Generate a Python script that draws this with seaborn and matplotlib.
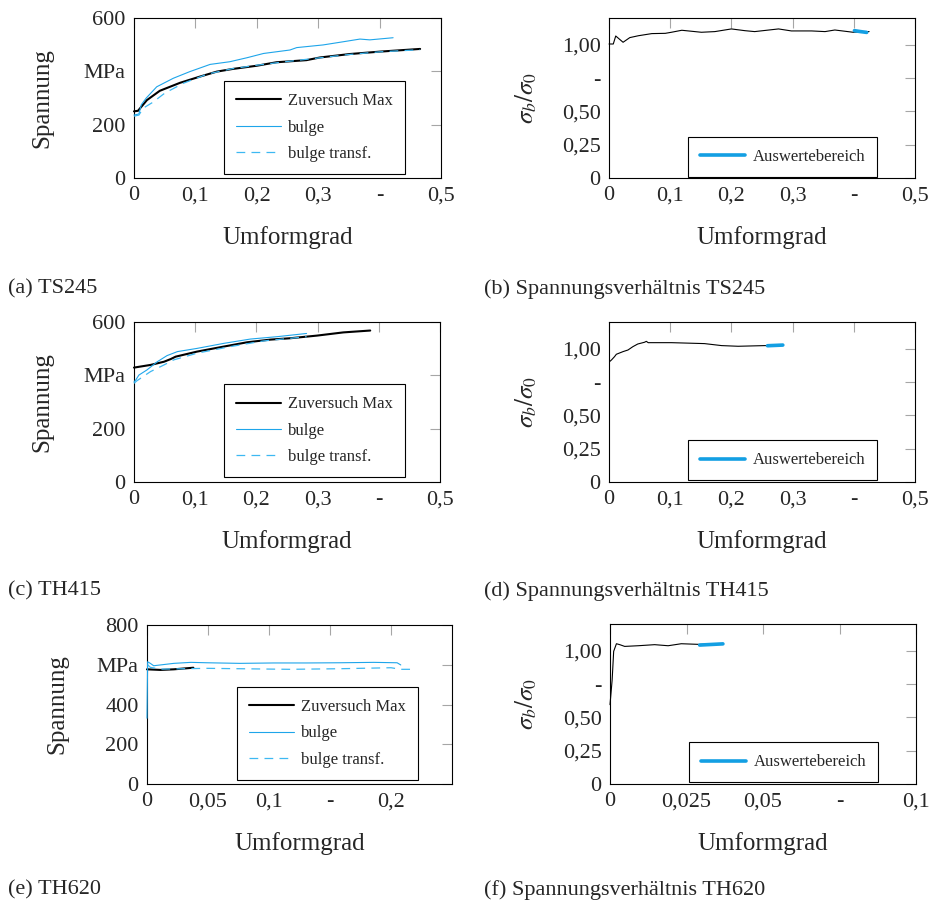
import matplotlib
matplotlib.use("Agg")
import matplotlib.pyplot as plt
import pandas as pd
import seaborn as sns

# ---------------------------------------------------------------- data
# TS245: flow curves (strain, stress in MPa)
ts245_zug_x = [0.0, 0.0065, 0.021, 0.042, 0.075, 0.107, 0.135, 0.161, 0.2, 0.232, 0.281, 0.303, 0.352, 0.401, 0.466]
ts245_zug_y = [250, 252, 292, 327, 357, 380, 399, 409, 421, 434, 442, 452, 465, 474, 484]
ts245_bulge_x = [0.0, 0.008, 0.012, 0.02, 0.037, 0.064, 0.091, 0.124, 0.156, 0.184, 0.211, 0.254, 0.265, 0.308, 0.341, 0.368, 0.384, 0.422]
ts245_bulge_y = [236, 240, 275, 300, 342, 374, 399, 426, 436, 451, 467, 480, 489, 499, 511, 521, 518, 526]
ts245_transf_x = [0.0, 0.008, 0.015, 0.03, 0.05, 0.08, 0.12, 0.16, 0.2, 0.25, 0.3, 0.35, 0.4, 0.466]
ts245_transf_y = [232, 236, 262, 283, 318, 355, 390, 410, 423, 437, 450, 463, 473, 481]
# TS245: stress ratio sigma_b / sigma_0
ts245_ratio_x = [0.0, 0.007, 0.011, 0.023, 0.034, 0.048, 0.07, 0.092, 0.102, 0.119, 0.151, 0.173, 0.2, 0.222, 0.238, 0.277, 0.298, 0.331, 0.353, 0.369, 0.399, 0.425]
ts245_ratio_y = [1.005, 1.005, 1.065, 1.018, 1.053, 1.067, 1.083, 1.085, 1.093, 1.108, 1.093, 1.098, 1.118, 1.105, 1.098, 1.118, 1.103, 1.103, 1.098, 1.11, 1.093, 1.098]
ts245_range_x = [0.401, 0.411, 0.421]
ts245_range_y = [1.105, 1.098, 1.092]

# TH415
th415_zug_x = [0.0, 0.027, 0.049, 0.06, 0.068, 0.103, 0.147, 0.185, 0.223, 0.255, 0.299, 0.342, 0.386]
th415_zug_y = [429, 439, 451, 461, 470, 489, 508, 524, 534, 539, 549, 561, 568]
th415_bulge_x = [0.0, 0.003, 0.008, 0.021, 0.038, 0.054, 0.071, 0.103, 0.147, 0.19, 0.234, 0.282]
th415_bulge_y = [375, 383, 401, 420, 451, 474, 489, 501, 520, 536, 545, 557]
th415_transf_x = [0.0, 0.005, 0.027, 0.049, 0.065, 0.103, 0.158, 0.212, 0.282]
th415_transf_y = [370, 380, 414, 439, 458, 483, 508, 529, 545]
th415_ratio_x = [0.001, 0.004, 0.009, 0.012, 0.023, 0.031, 0.039, 0.047, 0.058, 0.061, 0.064, 0.102, 0.156, 0.184, 0.211, 0.255, 0.284]
th415_ratio_y = [0.903, 0.915, 0.94, 0.958, 0.978, 0.99, 1.015, 1.035, 1.048, 1.055, 1.045, 1.045, 1.038, 1.023, 1.018, 1.023, 1.026]
th415_range_x = [0.259, 0.284]
th415_range_y = [1.022, 1.027]

# TH620
th620_zug_x = [0.0, 0.011, 0.022, 0.038]
th620_zug_y = [577, 574, 577, 585]
th620_bulge_x = [0.0, 0.0005, 0.0027, 0.0055, 0.011, 0.022, 0.036, 0.049, 0.076, 0.104, 0.131, 0.158, 0.186, 0.205, 0.208]
th620_bulge_y = [331, 615, 607, 595, 599, 607, 612, 610, 607, 609, 609, 610, 612, 610, 599]
th620_transf_x = [0.0005, 0.0027, 0.011, 0.049, 0.076, 0.117, 0.158, 0.2, 0.208, 0.217]
th620_transf_y = [600, 587, 578, 582, 580, 577, 580, 585, 577, 577]
th620_ratio_x = [0.0, 0.0007, 0.0012, 0.0021, 0.0032, 0.0048, 0.0092, 0.0146, 0.019, 0.0233, 0.0293, 0.0369]
th620_ratio_y = [0.595, 0.78, 0.995, 1.052, 1.045, 1.032, 1.037, 1.045, 1.037, 1.052, 1.047, 1.052]
th620_range_x = [0.0293, 0.0369]
th620_range_y = [1.042, 1.051]

# axis ticks and labels
strain_ticks = [0, 0.1, 0.2, 0.3, 0.4, 0.5]
strain_labels = ["0", "0,1", "0,2", "0,3", "-", "0,5"]
strain620_ticks = [0, 0.05, 0.1, 0.15, 0.2]
strain620_labels = ["0", "0,05", "0,1", "-", "0,2"]
ratio620_ticks = [0, 0.025, 0.05, 0.075, 0.1]
ratio620_labels = ["0", "0,025", "0,05", "-", "0,1"]
stress_ticks = [0, 200, 400, 600]
stress_labels = ["0", "200", "MPa", "600"]
stress620_ticks = [0, 200, 400, 600, 800]
stress620_labels = ["0", "200", "400", "MPa", "800"]
ratio_ticks = [0, 0.25, 0.5, 0.75, 1.0]
ratio_labels = ["0", "0,25", "0,50", "-", "1,00"]

legend_names = ["Zuversuch Max", "bulge", "bulge transf."]
range_name = "Auswertebereich"
captions = ["(a) TS245", "(b) Spannungsverhältnis TS245",
            "(c) TH415", "(d) Spannungsverhältnis TH415",
            "(e) TH620", "(f) Spannungsverhältnis TH620"]

# ---------------------------------------------------------------- style
sns.set_style("white")
plt.rcParams['font.family'] = ['Liberation Serif', 'DejaVu Serif']
plt.rcParams['mathtext.fontset'] = 'stix'

BLACK = '#000000'
BLUE = '#1ea5ea'
BLUE_T = '#3db8f2'
RANGE = '#139fe3'
TICK = '#a6a6a6'

W, H = 934, 905
fig = plt.figure(figsize=(W / 100, H / 100), dpi=100)


def add_axes(l, t, r, b):
    return fig.add_axes([l / W, 1 - b / H, (r - l) / W, (b - t) / H])


def style(ax, xlim, xt, xl, ylim, yt, yl, ylabel, ylab_x):
    ax.set_xlim(xlim)
    ax.set_ylim(ylim)
    ax.set_xticks(xt)
    ax.set_xticklabels(xl)
    ax.set_yticks(yt)
    ax.set_yticklabels(yl)
    ax.tick_params(direction='in', length=7.2, width=0.8, color=TICK,
                   top=True, right=True, labelsize=16, pad=6)
    for s in ax.spines.values():
        s.set_visible(True)
        s.set_color('black')
        s.set_linewidth(0.8)
    ax.set_xlabel('Umformgrad', fontsize=18)
    ax.xaxis.set_label_coords(0.5, -0.30)
    ax.set_ylabel(ylabel, fontsize=18)
    ax.yaxis.set_label_coords(ylab_x, 0.5)
    ax.grid(False)


def legend(ax, anchor):
    leg = ax.legend(loc='lower right', bbox_to_anchor=anchor, borderaxespad=0,
                    fontsize=12, handlelength=2.7, handletextpad=0.45,
                    labelspacing=0.62, borderpad=0.72, fancybox=False,
                    framealpha=1, edgecolor='black')
    leg.get_frame().set_linewidth(0.8)
    leg.set_zorder(5)


def line(ax, x, y, **kw):
    df = pd.DataFrame({"x": x, "y": y})
    sns.lineplot(data=df, x="x", y="y", ax=ax, estimator=None, sort=False,
                 zorder=3, clip_on=False, **kw)


def flow_panel(box, zx, zy, bx, by, tx, ty, xlim, xt, xl, ylim, yt, yl, ylab_x, anchor):
    ax = add_axes(*box)
    line(ax, zx, zy, color=BLACK, lw=1.5, label=legend_names[0])
    line(ax, bx, by, color=BLUE, lw=0.8, label=legend_names[1])
    line(ax, tx, ty, color=BLUE_T, lw=0.9, linestyle=(0, (7, 5)), label=legend_names[2])
    style(ax, xlim, xt, xl, ylim, yt, yl, 'Spannung', ylab_x)
    legend(ax, anchor)
    return ax


def ratio_panel(box, rx, ry, ax_x, ax_y, xlim, xt, xl, ylab_x, anchor):
    ax = add_axes(*box)
    line(ax, rx, ry, color=BLACK, lw=0.8)
    line(ax, ax_x, ax_y, color=RANGE, lw=2.6, label=range_name)
    style(ax, xlim, xt, xl, (0, 1.2), ratio_ticks, ratio_labels,
          r'$\sigma_b/\sigma_0$', ylab_x)
    legend(ax, anchor)
    return ax


flow_panel((134, 18, 441, 178), ts245_zug_x, ts245_zug_y, ts245_bulge_x, ts245_bulge_y,
           ts245_transf_x, ts245_transf_y, (0, 0.5), strain_ticks, strain_labels,
           (0, 600), stress_ticks, stress_labels, -0.262, (0.883, 0.025))
ratio_panel((609, 18, 915, 178), ts245_ratio_x, ts245_ratio_y, ts245_range_x, ts245_range_y,
            (0, 0.5), strain_ticks, strain_labels, -0.229, (0.876, 0.006))

flow_panel((134, 322, 440, 482), th415_zug_x, th415_zug_y, th415_bulge_x, th415_bulge_y,
           th415_transf_x, th415_transf_y, (0, 0.5), strain_ticks, strain_labels,
           (0, 600), stress_ticks, stress_labels, -0.262, (0.886, 0.031))
ratio_panel((609, 322, 915, 482), th415_ratio_x, th415_ratio_y, th415_range_x, th415_range_y,
            (0, 0.5), strain_ticks, strain_labels, -0.229, (0.876, 0.01))

flow_panel((147, 625, 452, 784), th620_zug_x, th620_zug_y, th620_bulge_x, th620_bulge_y,
           th620_transf_x, th620_transf_y, (0, 0.25), strain620_ticks, strain620_labels,
           (0, 800), stress620_ticks, stress620_labels, -0.258, (0.889, 0.027))
ratio_panel((610, 624, 916, 784), th620_ratio_x, th620_ratio_y, th620_range_x, th620_range_y,
            (0, 0.1), ratio620_ticks, ratio620_labels, -0.233, (0.877, 0.01))

cap_pos = [(8, 289), (484, 289), (8, 591), (484, 591), (8, 890), (484, 890)]
for (cx, cy), txt in zip(cap_pos, captions):
    fig.text(cx / W, 1 - cy / H, txt, fontsize=16, va='center', ha='left')

fig.savefig("out.png", dpi=100)
